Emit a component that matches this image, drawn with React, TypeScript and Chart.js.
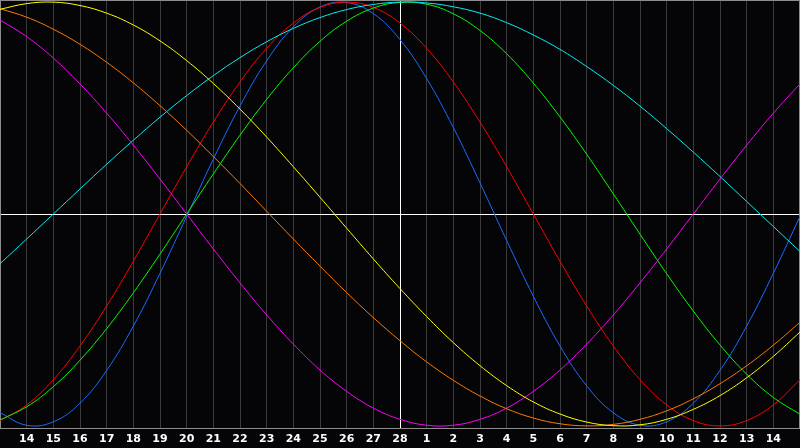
import { useEffect, useRef } from 'react';
import { Chart, registerables } from 'chart.js';

Chart.register(...registerables);

// day-of-month labels, 13 Feb .. 15 Mar (ends are hidden)
const days = [
  '13', '14', '15', '16', '17', '18', '19', '20', '21', '22', '23', '24', '25', '26', '27', '28',
  '1', '2', '3', '4', '5', '6', '7', '8', '9', '10', '11', '12', '13', '14', '15',
];

const physical = [-0.938, -0.997, -0.981, -0.893, -0.738, -0.529, -0.28, -0.011, 0.259, 0.51, 0.723, 0.883, 0.977, 0.998, 0.946, 0.823, 0.639, 0.408, 0.147, -0.125, -0.388, -0.623, -0.811, -0.938, -0.997, -0.981, -0.893, -0.738, -0.529, -0.28, -0.011];
const emotional = [-0.975, -0.901, -0.782, -0.623, -0.434, -0.223, 0, 0.223, 0.434, 0.623, 0.782, 0.901, 0.975, 1, 0.975, 0.901, 0.782, 0.623, 0.434, 0.223, 0, -0.223, -0.434, -0.623, -0.782, -0.901, -0.975, -1, -0.975, -0.901, -0.782];
const intellectual = [-0.972, -0.91, -0.815, -0.69, -0.541, -0.372, -0.189, 0, 0.189, 0.372, 0.541, 0.69, 0.815, 0.91, 0.972, 0.999, 0.99, 0.945, 0.866, 0.756, 0.618, 0.458, 0.282, 0.095, -0.095, -0.282, -0.458, -0.618, -0.756, -0.866, -0.945];
const intuitive = [0.916, 0.837, 0.736, 0.614, 0.476, 0.325, 0.165, 0, -0.165, -0.325, -0.476, -0.614, -0.736, -0.837, -0.916, -0.969, -0.997, -0.997, -0.969, -0.916, -0.837, -0.736, -0.614, -0.476, -0.325, -0.165, 0, 0.165, 0.325, 0.476, 0.614];
const aesthetic = [0.966, 0.993, 1, 0.984, 0.948, 0.892, 0.817, 0.724, 0.616, 0.495, 0.363, 0.223, 0.079, -0.067, -0.212, -0.352, -0.484, -0.607, -0.716, -0.81, -0.887, -0.944, -0.982, -0.999, -0.995, -0.969, -0.922, -0.857, -0.773, -0.672, -0.557];
const awareness = [0.969, 0.929, 0.872, 0.801, 0.716, 0.619, 0.511, 0.395, 0.271, 0.144, 0.013, -0.118, -0.246, -0.371, -0.489, -0.598, -0.698, -0.785, -0.859, -0.919, -0.963, -0.99, -1, -0.993, -0.969, -0.929, -0.872, -0.801, -0.716, -0.619, -0.511];
const spiritual = [-0.235, -0.118, 0, 0.118, 0.235, 0.348, 0.457, 0.559, 0.653, 0.738, 0.813, 0.876, 0.927, 0.965, 0.989, 1, 0.996, 0.978, 0.948, 0.903, 0.845, 0.777, 0.696, 0.607, 0.509, 0.403, 0.292, 0.177, 0.059, -0.059, -0.177];

const todayIndex = 15;

// gray frame round the plot area
const framePlugin = {
  id: 'frame',
  beforeDatasetsDraw(chart: Chart) {
    const { ctx, chartArea } = chart;
    ctx.save();
    ctx.strokeStyle = '#8c8c8c';
    ctx.lineWidth = 1;
    ctx.strokeRect(
      chartArea.left + 0.5,
      chartArea.top + 0.5,
      chartArea.right - chartArea.left - 1,
      chartArea.bottom - chartArea.top
    );
    ctx.restore();
  },
};

function line(label: string, data: number[], color: string) {
  return {
    label,
    data,
    borderColor: color,
    borderWidth: 1,
    pointRadius: 0,
    tension: 0.4,
    fill: false,
  };
}

export default function App() {
  const canvasRef = useRef<HTMLCanvasElement>(null);
  const chartRef = useRef<Chart | null>(null);

  useEffect(() => {
    document.body.style.margin = '0';
    if (!canvasRef.current) return;
    if (chartRef.current) chartRef.current.destroy();

    chartRef.current = new Chart(canvasRef.current, {
      type: 'line',
      data: {
        labels: days,
        datasets: [
          line('Aesthetic', aesthetic, '#ffff00'),
          line('Awareness', awareness, '#ff7a00'),
          line('Intuitive', intuitive, '#ff00ff'),
          line('Spiritual', spiritual, '#00f0f0'),
          line('Intellectual', intellectual, '#00ff00'),
          line('Emotional', emotional, '#ff0000'),
          line('Physical', physical, '#1a6cff'),
        ],
      },
      plugins: [framePlugin],
      options: {
        responsive: false,
        animation: false,
        layout: { padding: { left: 0, right: 0, top: 0, bottom: 3 } },
        plugins: {
          legend: { display: false },
          tooltip: { enabled: false },
        },
        scales: {
          x: {
            type: 'category',
            offset: false,
            border: { display: false },
            grid: {
              offset: false,
              drawTicks: true,
              tickLength: 6,
              tickColor: 'rgba(0,0,0,0)',
              lineWidth: 1,
              color: (c: any) => (c.index === todayIndex ? '#ffffff' : '#3a3a3a'),
            },
            ticks: {
              autoSkip: false,
              maxRotation: 0,
              padding: 0,
              color: '#ffffff',
              font: { family: 'DejaVu Sans', size: 11, weight: 'bold', lineHeight: 1 },
              callback: (_v: any, i: number) => (i === 0 || i === days.length - 1 ? '' : days[i]),
            },
          },
          y: {
            min: -1.01,
            max: 1.01,
            border: { display: false },
            grid: {
              drawTicks: false,
              color: (c: any) => (c.tick && c.tick.value === 0 ? '#ffffff' : 'rgba(0,0,0,0)'),
            },
            ticks: { display: false, stepSize: 1 },
          },
        },
      },
    });

    return () => {
      if (chartRef.current) {
        chartRef.current.destroy();
        chartRef.current = null;
      }
    };
  }, []);

  return (
    <div style={{ width: 800, height: 448, background: '#050508' }}>
      <canvas ref={canvasRef} width={800} height={448}></canvas>
    </div>
  );
}
